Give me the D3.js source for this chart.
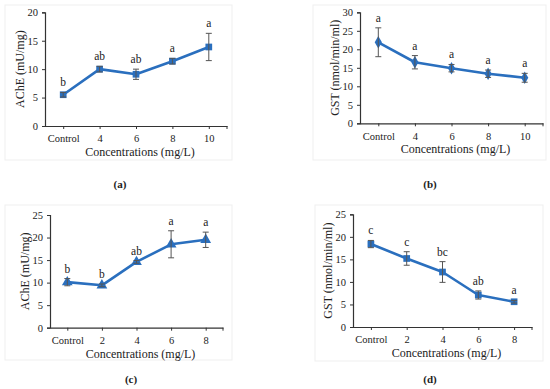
<!DOCTYPE html>
<html>
<head>
<meta charset="utf-8">
<script src="https://cdn.jsdelivr.net/npm/d3@7"></script>
<style>
  body { margin: 0; background: #fff; }
  svg text { font-family: "Liberation Serif", "DejaVu Serif", serif !important; fill: #222; }
</style>
</head>
<body>
<svg id="chart" width="550" height="389"></svg>
<script>
// panel (a) and (b): first exposure
const catsTop = ['Control', '4', '6', '8', '10'];
const acheA = [5.5, 10.0, 9.1, 11.4, 13.9];
const acheAErr = [0.4, 0.5, 0.9, 0.5, 2.4];
const acheALetters = ['b', 'ab', 'ab', 'a', 'a'];

const gstB = [21.9, 16.5, 14.9, 13.4, 12.3];
const gstBErr = [3.9, 1.8, 1.0, 1.0, 1.2];
const gstBLetters = ['a', 'a', 'a', 'a', 'a'];

// panel (c) and (d): second exposure
const catsBottom = ['Control', '2', '4', '6', '8'];
const acheC = [10.1, 9.4, 14.6, 18.5, 19.5];
const acheCErr = [0.8, 0.3, 0.3, 3.0, 1.7];
const acheCLetters = ['b', 'b', 'ab', 'a', 'a'];

const gstD = [18.4, 15.2, 12.2, 7.1, 5.6];
const gstDErr = [0.8, 1.5, 2.3, 0.9, 0.3];
const gstDLetters = ['c', 'c', 'bc', 'ab', 'a'];

const blue = '#2a6fbe';
const serif = '"Liberation Serif", "DejaVu Serif", serif';

const svg = d3.select('#chart');

const drawPanel = (p) => {
  const g = svg.append('g');

  // light frame around each panel
  g.append('rect')
    .attr('x', p.frame[0]).attr('y', p.frame[1])
    .attr('width', p.frame[2] - p.frame[0]).attr('height', p.frame[3] - p.frame[1])
    .attr('fill', 'none').attr('stroke', '#efefef');

  const x = d3.scalePoint().domain(p.cats).range([p.left, p.right]).padding(0.5);
  const y = d3.scaleLinear().domain([0, p.yMax]).range([p.bottom, p.top]);

  // y axis
  const yAxis = g.append('g')
    .attr('transform', `translate(${p.left},0)`)
    .call(d3.axisLeft(y).tickValues(d3.range(0, p.yMax + 1, 5)).tickSize(3).tickPadding(4))
    .attr('font-family', serif);
  yAxis.select('.domain').attr('stroke', '#333').attr('stroke-width', 1.2);
  yAxis.selectAll('.tick line').attr('stroke', '#333');
  yAxis.selectAll('text').style('font-size', '10.5px').style('font-family', serif);

  // x axis
  const xAxis = g.append('g')
    .attr('transform', `translate(0,${p.bottom})`)
    .call(d3.axisBottom(x).tickSize(3).tickSizeOuter(0).tickPadding(6))
    .attr('font-family', serif);
  xAxis.select('.domain').attr('stroke', '#333').attr('stroke-width', 1.2);
  xAxis.selectAll('.tick line').attr('stroke', '#333');
  xAxis.selectAll('text').style('font-size', '10.5px').style('font-family', serif);
  xAxis.append('line')
    .attr('x1', p.right).attr('x2', p.right).attr('y1', 0).attr('y2', 3)
    .attr('stroke', '#333');

  // axis titles
  g.append('text')
    .attr('transform', `translate(${p.left - 21},${(p.top + p.bottom) / 2}) rotate(-90)`)
    .attr('text-anchor', 'middle')
    .attr('font-size', 12)
    .text(p.yTitle);
  g.append('text')
    .attr('x', (p.left + p.right) / 2 + 4)
    .attr('y', p.bottom + 30)
    .attr('text-anchor', 'middle')
    .attr('font-size', 12)
    .text('Concentrations (mg/L)');

  const pts = p.cats.map((c, i) => ({ c, v: p.values[i], e: p.err[i], l: p.letters[i] }));

  // line
  g.append('path')
    .datum(pts)
    .attr('fill', 'none')
    .attr('stroke', blue)
    .attr('stroke-width', 2.6)
    .attr('stroke-linejoin', 'round')
    .attr('d', d3.line().x(d => x(d.c)).y(d => y(d.v)));

  // markers
  g.selectAll('.marker')
    .data(pts)
    .enter()
    .append('path')
    .attr('class', 'marker')
    .attr('transform', d => `translate(${x(d.c)},${y(d.v)})`)
    .attr('fill', blue)
    .attr('d', d3.symbol().type(p.symbol).size(p.symbolSize));

  // error bars
  const eb = g.selectAll('.err').data(pts).enter().append('g').attr('stroke', '#555').attr('stroke-width', 1);
  eb.append('line')
    .attr('x1', d => x(d.c)).attr('x2', d => x(d.c))
    .attr('y1', d => y(d.v - d.e)).attr('y2', d => y(d.v + d.e));
  eb.append('line')
    .attr('x1', d => x(d.c) - 3).attr('x2', d => x(d.c) + 3)
    .attr('y1', d => y(d.v - d.e)).attr('y2', d => y(d.v - d.e));
  eb.append('line')
    .attr('x1', d => x(d.c) - 3).attr('x2', d => x(d.c) + 3)
    .attr('y1', d => y(d.v + d.e)).attr('y2', d => y(d.v + d.e));

  // significance letters
  g.selectAll('.letter')
    .data(pts)
    .enter()
    .append('text')
    .attr('x', d => x(d.c))
    .attr('y', d => y(d.v + d.e) - 6)
    .attr('text-anchor', 'middle')
    .attr('font-size', 11.5)
    .text(d => d.l);

  // caption
  g.append('text')
    .attr('x', p.caption[0]).attr('y', p.caption[1])
    .attr('text-anchor', 'middle')
    .attr('font-size', 11)
    .attr('font-weight', 'bold')
    .text(p.captionText);
};

drawPanel({
  cats: catsTop, values: acheA, err: acheAErr, letters: acheALetters,
  yMax: 20, yTitle: 'AChE (mU/mg)',
  left: 45, right: 227, top: 12.3, bottom: 126,
  symbol: d3.symbolSquare, symbolSize: 45,
  frame: [5, 5, 232, 160], caption: [120, 188], captionText: '(a)',
});

drawPanel({
  cats: catsTop, values: gstB, err: gstBErr, letters: gstBLetters,
  yMax: 30, yTitle: 'GST (nmol/min/ml)',
  left: 360, right: 543, top: 12.3, bottom: 123.3,
  symbol: d3.symbolDiamond, symbolSize: 45,
  frame: [313, 5, 546, 160], caption: [430, 188], captionText: '(b)',
});

drawPanel({
  cats: catsBottom, values: acheC, err: acheCErr, letters: acheCLetters,
  yMax: 25, yTitle: 'AChE (mU/mg)',
  left: 50, right: 223, top: 215, bottom: 327.7,
  symbol: d3.symbolTriangle, symbolSize: 50,
  frame: [5, 205, 232, 360], caption: [131, 383], captionText: '(c)',
});

drawPanel({
  cats: catsBottom, values: gstD, err: gstDErr, letters: gstDLetters,
  yMax: 25, yTitle: 'GST (nmol/min/ml)',
  left: 353, right: 532, top: 214.3, bottom: 327,
  symbol: d3.symbolSquare, symbolSize: 45,
  frame: [315, 205, 543, 361], caption: [430, 383], captionText: '(d)',
});
</script>
</body>
</html>
